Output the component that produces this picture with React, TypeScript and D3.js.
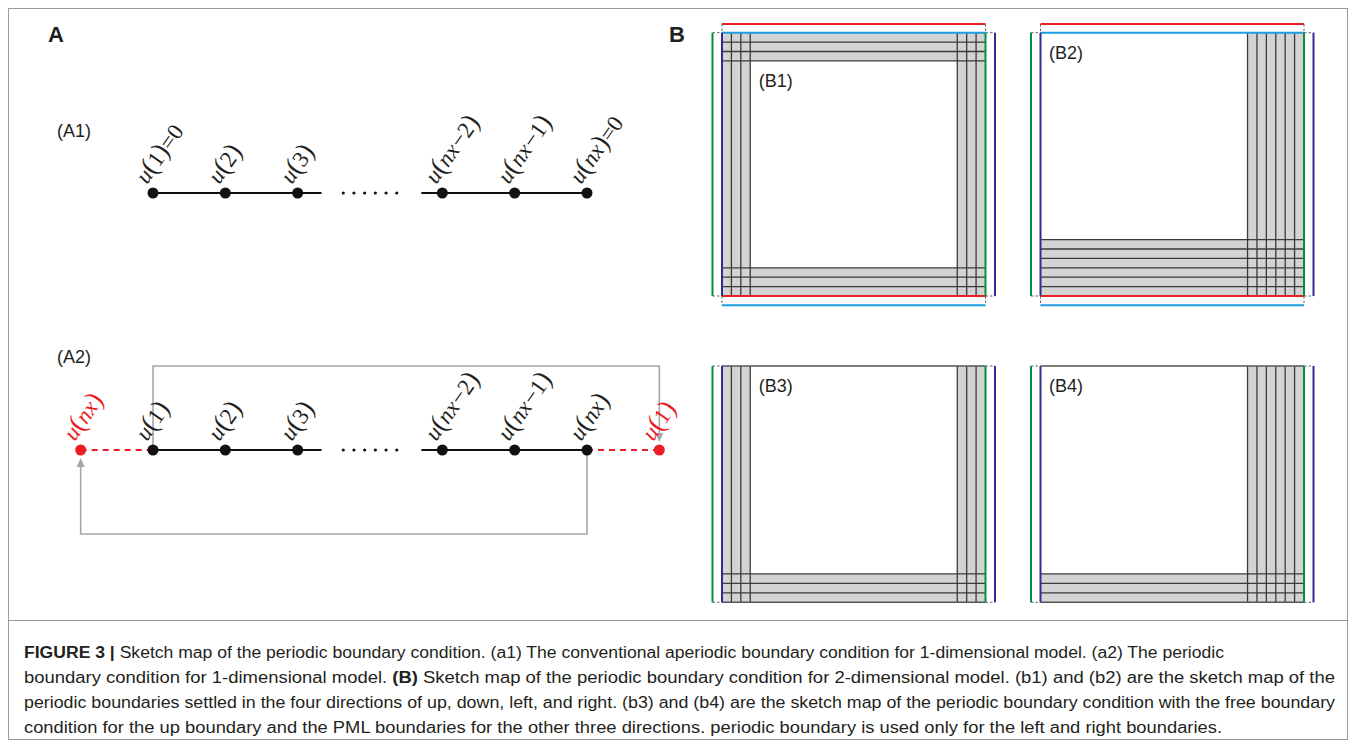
import * as d3 from "d3";

// ---------- DATA ----------
const nodeIdx = [0, 1, 2, 4, 5, 6];
const a1Labels = ["u(1)=0", "u(2)", "u(3)", "u(nx−2)", "u(nx−1)", "u(nx)=0"];
const a2Labels = ["u(1)", "u(2)", "u(3)", "u(nx−2)", "u(nx−1)", "u(nx)"];
const ghostIdx = [-1, 7];
const ghostLabels = ["u(nx)", "u(1)"];

// PML cells per side for each 2D sketch
const panelIds = ["B1", "B2", "B3", "B4"];
const pmlTop = [3, 0, 0, 0];
const pmlBottom = [3, 6, 3, 3];
const pmlLeft = [3, 0, 3, 0];
const pmlRight = [3, 6, 3, 6];
const periodicUpDown = [true, true, false, false];
const gridCells = [28, 28, 25, 25];

const captionLines = [
  [["FIGURE 3 | ", true], ["Sketch map of the periodic boundary condition. (a1) The conventional aperiodic boundary condition for 1-dimensional model. (a2) The periodic", false]],
  [["boundary condition for 1-dimensional model. ", false], ["(B)", true], [" Sketch map of the periodic boundary condition for 2-dimensional model. (b1) and (b2) are the sketch map of the", false]],
  [["periodic boundaries settled in the four directions of up, down, left, and right. (b3) and (b4) are the sketch map of the periodic boundary condition with the free boundary", false]],
  [["condition for the up boundary and the PML boundaries for the other three directions. periodic boundary is used only for the left and right boundaries.", false]],
] as [string, boolean][][];
const captionEnds = [1224, 1335, 1335, 1222];

// ---------- STYLE ----------
const RED = "#ec1c24";
const LBLUE = "#1b9de0";
const GREEN = "#00923f";
const NAVY = "#2e2c8f";
const GREY = "#a6a6a6";
const INK = "#231f20";

const x = d3.scaleLinear().domain([0, 6]).range([153, 587]);
const yA1 = 193;
const yA2 = 450;

function MathLabel({ text, px, py, color }: { text: string; px: number; py: number; color: string }) {
  const parts = text.split("");
  return (
    <text
      transform={`translate(${px - 6},${py - 8}) rotate(-55)`}
      fontFamily="'Liberation Serif', 'DejaVu Serif', serif"
      fontSize={23}
      fill={color}
    >
      {parts.map((c, i) => (
        <tspan
          key={i}
          fontStyle={/[a-z]/.test(c) ? "italic" : "normal"}
          fontSize={c === "(" || c === ")" ? 27 : 23}
          dx={c === "−" ? 1 : 0}
        >
          {c}
        </tspan>
      ))}
    </text>
  );
}

function Chain({ y, labels }: { y: number; labels: string[] }) {
  const dots = d3.range(6).map((i) => 2.63 + i * 0.148);
  return (
    <g>
      <line x1={x(0)} x2={x(2.33)} y1={y} y2={y} stroke="#111" strokeWidth={2} />
      <line x1={x(3.71)} x2={x(6)} y1={y} y2={y} stroke="#111" strokeWidth={2} />
      {dots.map((d, i) => (
        <circle key={i} cx={x(d)} cy={y} r={1.6} fill="#111" />
      ))}
      {nodeIdx.map((d, i) => (
        <g key={i}>
          <circle cx={x(d)} cy={y} r={5.5} fill="#111" />
          <MathLabel text={labels[i]} px={x(d)} py={y} color={INK} />
        </g>
      ))}
    </g>
  );
}

function Panel({ k }: { k: number }) {
  const col = k % 2;
  const row = Math.floor(k / 2);
  const x0 = col === 0 ? 722 : 1040.5;
  const y0 = row === 0 ? 32.7 : 366;
  const n = gridCells[k];
  const w = 263.5;
  const h = row === 0 ? 263.3 : 236.3;
  const sx = d3.scaleLinear().domain([0, 28]).range([x0, x0 + w]);
  const sy = d3.scaleLinear().domain([0, n]).range([y0, y0 + h]);
  const t = pmlTop[k], b = pmlBottom[k], l = pmlLeft[k], r = pmlRight[k];
  const vLines = [...d3.range(1, l + 1), ...d3.range(28 - r, 28)];
  const hLines = [...d3.range(1, t + 1), ...d3.range(n - b, n)];
  const xL = sx(0), xR = sx(28), yT = sy(0), yB = sy(n);
  const gap = 9.5;
  return (
    <g>
      {/* PML bands */}
      {t > 0 && <rect x={xL} y={yT} width={w} height={sy(t) - yT} fill="#d3d3d3" />}
      {b > 0 && <rect x={xL} y={sy(n - b)} width={w} height={yB - sy(n - b)} fill="#d3d3d3" />}
      {l > 0 && <rect x={xL} y={yT} width={sx(l) - xL} height={h} fill="#d3d3d3" />}
      {r > 0 && <rect x={sx(28 - r)} y={yT} width={xR - sx(28 - r)} height={h} fill="#d3d3d3" />}
      {vLines.map((v) => (
        <line key={"v" + v} x1={sx(v)} x2={sx(v)} y1={yT} y2={yB} stroke="#3a3a3a" strokeWidth={1.3} />
      ))}
      {hLines.map((v) => (
        <line key={"h" + v} x1={xL} x2={xR} y1={sy(v)} y2={sy(v)} stroke="#3a3a3a" strokeWidth={1.3} />
      ))}
      {/* outer edges */}
      <line x1={xL} x2={xR} y1={yT} y2={yT} stroke={periodicUpDown[k] ? LBLUE : "#555"} strokeWidth={periodicUpDown[k] ? 2 : 1.5} />
      <line x1={xL} x2={xR} y1={yB} y2={yB} stroke={periodicUpDown[k] ? RED : "#555"} strokeWidth={periodicUpDown[k] ? 2 : 1.5} />
      <line x1={xL} x2={xL} y1={yT} y2={yB} stroke={NAVY} strokeWidth={2} />
      <line x1={xR} x2={xR} y1={yT} y2={yB} stroke={GREEN} strokeWidth={2} />
      {/* periodic copies, left / right */}
      <line x1={xL - gap} x2={xL - gap} y1={yT} y2={yB} stroke={GREEN} strokeWidth={2} />
      <line x1={xR + gap} x2={xR + gap} y1={yT} y2={yB} stroke={NAVY} strokeWidth={2} />
      {[yT, yB].map((yy, i) => (
        <g key={"lr" + i} stroke="#666" strokeWidth={1} strokeDasharray="2.5,2">
          <line x1={xL - gap} x2={xL} y1={yy} y2={yy} />
          <line x1={xR} x2={xR + gap} y1={yy} y2={yy} />
        </g>
      ))}
      {/* periodic copies, up / down */}
      {periodicUpDown[k] && (
        <g>
          <line x1={xL} x2={xR} y1={yT - 8.7} y2={yT - 8.7} stroke={RED} strokeWidth={2} />
          <line x1={xL} x2={xR} y1={yB + 9.3} y2={yB + 9.3} stroke={LBLUE} strokeWidth={2} />
          {[xL, xR].map((xx, i) => (
            <g key={"ud" + i} stroke="#666" strokeWidth={1} strokeDasharray="2.5,2">
              <line x1={xx} x2={xx} y1={yT - 8.7} y2={yT} />
              <line x1={xx} x2={xx} y1={yB} y2={yB + 9.3} />
            </g>
          ))}
        </g>
      )}
      <text
        x={sx(l) + 8.5}
        y={sy(t) + 26}
        fontFamily="'Liberation Sans', Arial, sans-serif"
        fontSize={18}
        fill={INK}
      >
        ({panelIds[k]})
      </text>
    </g>
  );
}

export default function App() {
  return (
    <div style={{ position: "absolute", left: 0, top: 0 }}>
      <svg width={1356} height={744} style={{ display: "block", background: "#fff" }}>
        <rect x={8.5} y={8.5} width={1339} height={731} fill="none" stroke="#9a9a9a" strokeWidth={1} />
        <line x1={8.5} x2={1347.5} y1={620.5} y2={620.5} stroke="#9a9a9a" strokeWidth={1} />

        <text x={48} y={42} fontFamily="'Liberation Sans', Arial, sans-serif" fontWeight="bold" fontSize={22} fill={INK}>A</text>
        <text x={669} y={42} fontFamily="'Liberation Sans', Arial, sans-serif" fontWeight="bold" fontSize={22} fill={INK}>B</text>

        {/* A1 */}
        <text x={57} y={137} fontFamily="'Liberation Sans', Arial, sans-serif" fontSize={18} fill={INK}>(A1)</text>
        <Chain y={yA1} labels={a1Labels} />

        {/* A2 */}
        <text x={57} y={363} fontFamily="'Liberation Sans', Arial, sans-serif" fontSize={18} fill={INK}>(A2)</text>
        <path
          d={`M${x(0)},${yA2} V366 H${x(7)} V${yA2 - 12}`}
          fill="none" stroke={GREY} strokeWidth={1.6}
        />
        <path d={`M${x(7) - 4},${yA2 - 17} L${x(7)},${yA2 - 8} L${x(7) + 4},${yA2 - 17} Z`} fill={GREY} />
        <path
          d={`M${x(6)},${yA2} V534 H${x(-1)} V${yA2 + 12}`}
          fill="none" stroke={GREY} strokeWidth={1.6}
        />
        <path d={`M${x(-1) - 4},${yA2 + 17} L${x(-1)},${yA2 + 8} L${x(-1) + 4},${yA2 + 17} Z`} fill={GREY} />
        <line x1={x(-1)} x2={x(0)} y1={yA2} y2={yA2} stroke={RED} strokeWidth={2} strokeDasharray="6,5" />
        <line x1={x(6)} x2={x(7)} y1={yA2} y2={yA2} stroke={RED} strokeWidth={2} strokeDasharray="6,5" />
        <Chain y={yA2} labels={a2Labels} />
        {ghostIdx.map((d, i) => (
          <g key={i}>
            <circle cx={x(d)} cy={yA2} r={5.5} fill={RED} />
            <MathLabel text={ghostLabels[i]} px={x(d)} py={yA2} color={RED} />
          </g>
        ))}

        {/* B */}
        {panelIds.map((_, k) => (
          <Panel key={k} k={k} />
        ))}

        {/* caption */}
        {captionLines.map((parts, i) => (
          <text
            key={i}
            x={24}
            y={658 + i * 25}
            textLength={captionEnds[i] - 24}
            lengthAdjust="spacingAndGlyphs"
            fontFamily="'Liberation Sans Narrow', 'Liberation Sans', Arial, sans-serif"
            fontSize={16}
            fill={INK}
          >
            {parts.map(([s, bold], j) => (
              <tspan key={j} fontWeight={bold ? "bold" : "normal"}>{s}</tspan>
            ))}
          </text>
        ))}
      </svg>
    </div>
  );
}
